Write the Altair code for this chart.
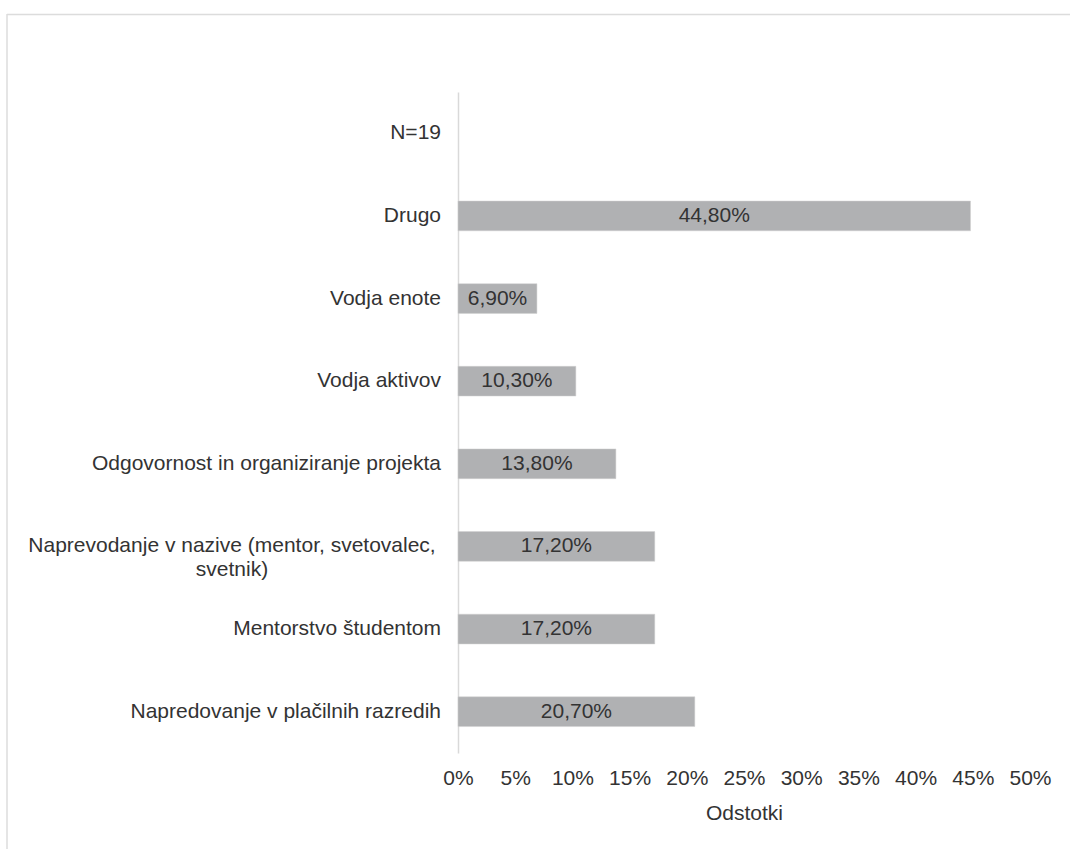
import altair as alt
import pandas as pd

categories = ["N=19", "Drugo", "Vodja enote", "Vodja aktivov",
              "Odgovornost in organiziranje projekta",
              "Naprevodanje v nazive (mentor, svetovalec, svetnik)",
              "Mentorstvo študentom", "Napredovanje v plačilnih razredih"]
values = [None, 44.8, 6.9, 10.3, 13.8, 17.2, 17.2, 20.7]
value_labels = ["", "44,80%", "6,90%", "10,30%", "13,80%", "17,20%", "17,20%", "20,70%"]
x_ticks = [0, 5, 10, 15, 20, 25, 30, 35, 40, 45, 50]
x_title = "Odstotki"

df = pd.DataFrame({"cat": categories, "val": values, "lbl": value_labels})
bars_df = df[df["val"].notna()].copy()
bars_df["mid"] = bars_df["val"] / 2
is_multi = df["cat"].str.startswith("Naprevodanje")
single_df = df[~is_multi]
multi_df = df[is_multi].copy()
multi_df["wrapped"] = ["Naprevodanje v nazive (mentor, svetovalec,\nsvetnik)"]

FONT = "Liberation Sans"
TXT = "#333333"
FS = 21

yscale = alt.Scale(domain=categories, paddingInner=0.64, paddingOuter=0.32)
xscale = alt.Scale(domain=[0, 50], nice=False)

y_enc = alt.Y("cat:N", scale=yscale, sort=categories,
              axis=alt.Axis(labels=False, ticks=False, title=None,
                            domainColor="#d9d9d9", domainWidth=1.5))

bars = alt.Chart(bars_df).mark_bar(color="#b0b1b3", stroke="#d0d0d0", strokeWidth=0.5).encode(
    x=alt.X("val:Q", scale=xscale,
            axis=alt.Axis(values=x_ticks, labelExpr="datum.value + '%'",
                          grid=False, ticks=False, domain=False, labelFlush=False,
                          labelFont=FONT, labelFontSize=FS, labelColor=TXT,
                          labelPadding=14, title=x_title, titleFont=FONT,
                          titleFontSize=FS, titleFontWeight="normal",
                          titleColor=TXT, titlePadding=14)),
    y=y_enc,
)

bar_labels = alt.Chart(bars_df).mark_text(font=FONT, fontSize=FS, color=TXT).encode(
    x=alt.X("mid:Q", scale=xscale),
    y=alt.Y("cat:N", scale=yscale, sort=categories),
    text="lbl:N",
)

ylabels = alt.Chart(single_df).mark_text(font=FONT, fontSize=FS, color=TXT,
                                          align="right", baseline="middle").encode(
    x=alt.value(-17),
    y=alt.Y("cat:N", scale=yscale, sort=categories),
    text="cat:N",
)

ylabel_multi = alt.Chart(multi_df).mark_text(font=FONT, fontSize=FS, color=TXT,
                                             align="center", baseline="middle",
                                             lineBreak="\n", lineHeight=24).encode(
    x=alt.value(-226),
    y=alt.Y("cat:N", scale=yscale, sort=categories),
    text="wrapped:N",
)

frame_top = alt.Chart(pd.DataFrame({"a": [0]})).mark_rule(color="#dcdcdc", strokeWidth=1.5).encode(
    x=alt.value(-451), x2=alt.value(620), y=alt.value(-77.5))
frame_left = alt.Chart(pd.DataFrame({"a": [0]})).mark_rule(color="#dcdcdc", strokeWidth=1.5).encode(
    x=alt.value(-451), y=alt.value(-78), y2=alt.value(760))

chart = alt.layer(frame_top, frame_left, bars, bar_labels, ylabels, ylabel_multi).properties(
    width=572, height=661,
    autosize=alt.AutoSizeParams(type="none"),
    padding={"left": 458, "top": 92, "right": 40, "bottom": 96},
    background="white",
).configure_view(stroke=None)

chart.save("out.html", embed_options={"renderer": "svg", "actions": False})
